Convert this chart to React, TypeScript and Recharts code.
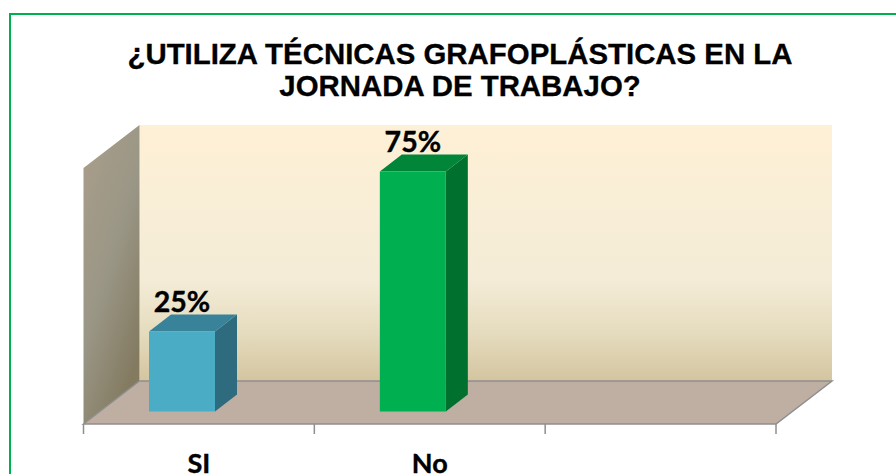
import React from 'react';
import { BarChart, Bar, XAxis, YAxis, LabelList, usePlotArea } from 'recharts';

const categories = ['SI', 'No', ''];
const seriesValues = [25, 75, null];
const domainMax = 80;
const titleLines = ['¿UTILIZA TÉCNICAS GRAFOPLÁSTICAS EN LA', 'JORNADA DE TRABAJO?'];

const barFronts = ['#4BACC6', '#00B050'];
const barTops = ['#38829A', '#008539'];
const barSides = ['#2F6B7E', '#00702F'];

const chartData = categories.map((name, i) => ({ name, value: seriesValues[i] }));

// fake 3D: the walls go back by this much, bars stand part way in
const WALL_DX = 56;
const WALL_DY = 43;
const BAR_SHIFT_X = 16.5;
const BAR_SHIFT_Y = 12.5;
const BAR_DX = 22;
const BAR_DY = 17;

const LINE = '#8E8E8E';
const LABEL_FONT = 'Lato, sans-serif';

// Walls, floor, axis ticks and title, placed from the plot area
const Room = () => {
  const plot = usePlotArea();
  if (!plot) return null;
  const left = plot.x;
  const right = plot.x + plot.width;
  const top = plot.y;
  const bottom = plot.y + plot.height;
  const step = plot.width / categories.length;
  const ticks = [0, 1, 2, 3].map((i) => left + step * i);

  return (
    <g>
      <defs>
        <linearGradient id="backWall" x1="0" y1="0" x2="0" y2="1">
          <stop offset="0%" stopColor="#FEF0D6" />
          <stop offset="60%" stopColor="#F4ECD7" />
          <stop offset="80%" stopColor="#E6DDC0" />
          <stop offset="100%" stopColor="#D4C5A0" />
        </linearGradient>
        <linearGradient id="sideWall" x1="0" y1="0" x2="0.6" y2="1">
          <stop offset="0%" stopColor="#AA9E8A" />
          <stop offset="55%" stopColor="#9A9686" />
          <stop offset="100%" stopColor="#837A60" />
        </linearGradient>
      </defs>
      <rect x={left + WALL_DX} y={top - WALL_DY} width={plot.width} height={plot.height} fill="url(#backWall)" />
      <polygon
        points={`${left},${top} ${left + WALL_DX},${top - WALL_DY} ${left + WALL_DX},${bottom - WALL_DY} ${left},${bottom}`}
        fill="url(#sideWall)"
      />
      <polygon
        points={`${left},${bottom} ${left + WALL_DX},${bottom - WALL_DY} ${right + WALL_DX},${bottom - WALL_DY} ${right},${bottom}`}
        fill="#BFAFA2"
      />
      <path
        d={`M${left},${bottom} L${left + WALL_DX},${bottom - WALL_DY} L${right + WALL_DX},${bottom - WALL_DY} L${right},${bottom} Z`}
        fill="none"
        stroke={LINE}
        strokeWidth={1.5}
      />
      {ticks.map((x) => (
        <line key={x} x1={x} x2={x} y1={bottom} y2={bottom + 10} stroke={LINE} strokeWidth={1.5} />
      ))}
      <text
        textAnchor="middle"
        fontFamily="'Liberation Sans', Arial, sans-serif"
        fontWeight="bold"
        fontSize={29.4}
        fill="#000"
        stroke="#000"
        strokeWidth={0.3}
      >
        <tspan x={460} y={64}>{titleLines[0]}</tspan>
        <tspan x={460} y={96}>{titleLines[1]}</tspan>
      </text>
    </g>
  );
};

const Bar3D = (props: any) => {
  const { x, y, width, height, index } = props;
  if (!height) return null;
  const fx = x - BAR_SHIFT_X;
  const fy = y - BAR_SHIFT_Y;
  const fr = fx + width;
  const fb = fy + height;
  return (
    <g>
      <polygon
        points={`${fr},${fy} ${fr + BAR_DX},${fy - BAR_DY} ${fr + BAR_DX},${fb - BAR_DY} ${fr},${fb}`}
        fill={barSides[index]}
      />
      <polygon
        points={`${fx},${fy} ${fx + BAR_DX},${fy - BAR_DY} ${fr + BAR_DX},${fy - BAR_DY} ${fr},${fy}`}
        fill={barTops[index]}
      />
      <rect x={fx} y={fy} width={width} height={height} fill={barFronts[index]} />
    </g>
  );
};

const ValueLabel = (props: any) => {
  const { x, y, width, value } = props;
  if (value == null) return null;
  return (
    <text
      x={x - BAR_SHIFT_X + width / 2}
      y={y - BAR_SHIFT_Y - 20}
      textAnchor="middle"
      fontFamily={LABEL_FONT}
      fontWeight="bold"
      fontSize={28.5}
      fill="#000"
      stroke="#000"
      strokeWidth={0.4}
    >
      {`${value}%`}
    </text>
  );
};

const CategoryTick = (props: any) => {
  const { x, payload } = props;
  return (
    <text
      x={x}
      y={473}
      textAnchor="middle"
      fontFamily={LABEL_FONT}
      fontWeight="bold"
      fontSize={27}
      fill="#000"
      stroke="#000"
      strokeWidth={0.4}
    >
      {payload.value}
    </text>
  );
};

export default function App() {
  return (
    <div style={{ position: 'absolute', left: 0, top: 0, width: 896, height: 474, background: '#fff', overflow: 'hidden' }}>
      {/* the frame only shows on its top and left sides */}
      <div
        style={{
          position: 'absolute',
          left: 9,
          top: 13,
          width: 887,
          height: 461,
          borderTop: '2px solid #00B050',
          borderLeft: '2px solid #00B050',
          boxSizing: 'border-box',
        }}
      />
      <BarChart
        width={896}
        height={474}
        data={chartData}
        margin={{ top: 168, right: 120, bottom: 20, left: 83.5 }}
        barSize={66}
        style={{ position: 'absolute', left: 0, top: 0 }}
      >
        <Room />
        <XAxis dataKey="name" height={30} axisLine={false} tickLine={false} interval={0} tick={<CategoryTick />} />
        <YAxis hide domain={[0, domainMax]} />
        <Bar dataKey="value" shape={<Bar3D />} isAnimationActive={false}>
          <LabelList dataKey="value" content={<ValueLabel />} />
        </Bar>
      </BarChart>
    </div>
  );
}
